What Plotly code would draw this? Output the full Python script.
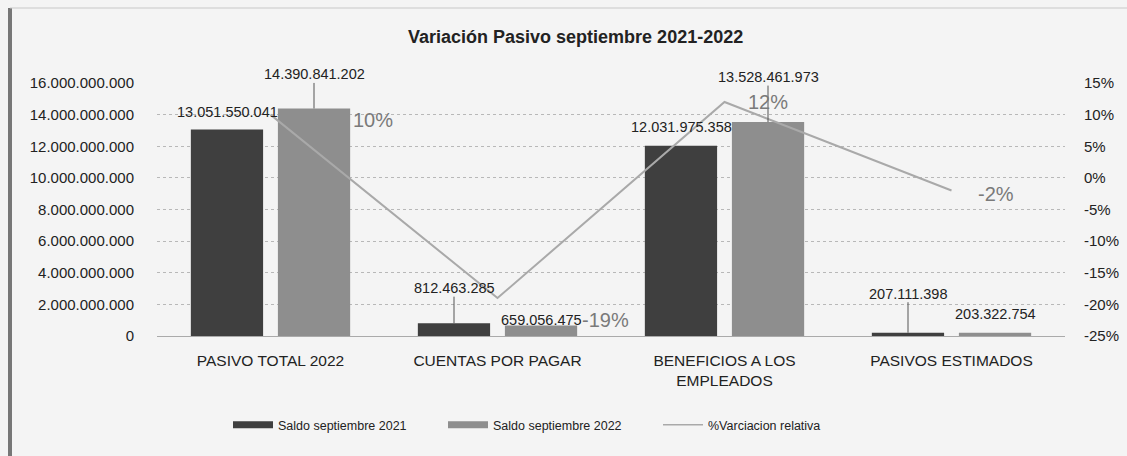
import plotly.graph_objects as go

categories = ["PASIVO TOTAL 2022", "CUENTAS POR PAGAR", "BENEFICIOS A LOS<br>EMPLEADOS", "PASIVOS ESTIMADOS"]
saldo_2021 = [13051550041, 812463285, 12031975358, 207111398]
saldo_2022 = [14390841202, 659056475, 13528461973, 203322754]
variacion = [0.10, -0.19, 0.12, -0.02]
labels_2021 = ["13.051.550.041", "812.463.285", "12.031.975.358", "207.111.398"]
labels_2022 = ["14.390.841.202", "659.056.475", "13.528.461.973", "203.322.754"]
labels_var = ["10%", "-19%", "12%", "-2%"]
left_ticks = [0, 2e9, 4e9, 6e9, 8e9, 10e9, 12e9, 14e9, 16e9]
right_ticks = [-0.25, -0.20, -0.15, -0.10, -0.05, 0.0, 0.05, 0.10, 0.15]
right_ticktext = ["-25%", "-20%", "-15%", "-10%", "-5%", "0%", "5%", "10%", "15%"]

DARK = "#3f3f3f"
LIGHT = "#8e8e8e"
LINE = "#a9a9a9"
TXT = "#222222"
FONT = "Liberation Sans, Arial, sans-serif"

fig = go.Figure()
fig.add_trace(go.Bar(x=categories, y=saldo_2021, name="Saldo septiembre 2021", showlegend=False,
                     marker=dict(color=DARK, line=dict(width=0))))
fig.add_trace(go.Bar(x=categories, y=saldo_2022, name="Saldo septiembre 2022", showlegend=False,
                     marker=dict(color=LIGHT, line=dict(width=0))))
fig.add_trace(go.Scatter(x=categories, y=variacion, name="%Varciacion relativa", showlegend=False,
                         mode="lines", line=dict(color=LINE, width=2), yaxis="y2"))
# legend entries (wide flat swatches like the reference)
fig.add_trace(go.Scatter(x=[None], y=[None], mode="lines", name="Saldo septiembre 2021",
                         line=dict(color=DARK, width=7)))
fig.add_trace(go.Scatter(x=[None], y=[None], mode="lines", name="Saldo septiembre 2022",
                         line=dict(color=LIGHT, width=7)))
fig.add_trace(go.Scatter(x=[None], y=[None], mode="lines", name="%Varciacion relativa",
                         line=dict(color=LINE, width=1.5)))

# label placement styles (pixel offsets), separate from data
off = 43.5
lead_2021 = [None, -35, None, -39]   # leader line length (px) or None
shift_2021 = [18, 0, 19, 0]
lead_2022 = [-34, None, -45, None]
shift_2022 = [0, 6, 0, 19]
var_xshift = [102, 108, 43, 44]
var_yshift = [-5, -22, 0, -3]

annotations = []
for i, c in enumerate(categories):
    for vals, labs, lead, shift, xs in ((saldo_2021, labels_2021, lead_2021, shift_2021, -off),
                                          (saldo_2022, labels_2022, lead_2022, shift_2022, off)):
        if lead[i] is not None:
            annotations.append(dict(x=c, y=vals[i], xref="x", yref="y", text=labs[i],
                                    showarrow=True, arrowhead=0, arrowwidth=1, arrowcolor="#555",
                                    ax=0, ay=lead[i], xshift=xs, standoff=0, startstandoff=0,
                                    font=dict(family=FONT, size=14.5, color=TXT), borderpad=0))
        else:
            annotations.append(dict(x=c, y=vals[i], xref="x", yref="y", text=labs[i],
                                    showarrow=False, xshift=xs, yshift=shift[i], yanchor="middle",
                                    font=dict(family=FONT, size=14.5, color=TXT)))
    annotations.append(dict(x=c, y=variacion[i], xref="x", yref="y2", text=labels_var[i],
                            showarrow=False, xshift=var_xshift[i], yshift=var_yshift[i],
                            yanchor="middle", font=dict(family=FONT, size=20, color="#7a7a7a")))

annotations.append(dict(text="<b>Variación Pasivo septiembre 2021-2022</b>", xref="paper", yref="paper",
                        x=(575 - 157) / 908, y=1 + (83 - 37) / 253, showarrow=False,
                        font=dict(family=FONT, size=18, color=TXT), xanchor="center", yanchor="middle"))

fig.update_layout(
    width=1127, height=456,
    margin=dict(l=157, r=62, t=83, b=120, autoexpand=False),
    paper_bgcolor="#f4f4f4", plot_bgcolor="#f4f4f4",
    barmode="group", bargap=0.233, bargroupgap=0.17,
    font=dict(family=FONT, size=13, color=TXT),
    showlegend=True,
    legend=dict(orientation="h", x=(228 - 157) / 908, xanchor="left", y=-(425 - 336) / 253,
                yanchor="middle", font=dict(family=FONT, size=12.5, color=TXT),
                bgcolor="rgba(0,0,0,0)", itemwidth=40, entrywidth=160, entrywidthmode="pixels",
                tracegroupgap=0),
    xaxis=dict(showline=True, linecolor="#aaaaaa", linewidth=1, ticks="", showgrid=False,
               ticklabelstandoff=10, tickfont=dict(family=FONT, size=15.5, color=TXT)),
    yaxis=dict(range=[0, 16e9], tickvals=left_ticks, tickformat=",d", showgrid=True,
               gridcolor="#b8b8b8", griddash="dot", gridwidth=1, zeroline=False, ticks="",
               ticklabelstandoff=22, tickfont=dict(family=FONT, size=15, color=TXT)),
    yaxis2=dict(range=[-0.25, 0.15], tickvals=right_ticks, ticktext=right_ticktext, overlaying="y",
                side="right", showgrid=False, zeroline=False, ticks="", ticklabelstandoff=18,
                tickfont=dict(family=FONT, size=15, color=TXT)),
    separators=",.",
    annotations=annotations,
    shapes=[
        dict(type="line", xref="paper", yref="paper", x0=(10 - 157) / 908, x1=(10 - 157) / 908,
             y0=-(456 - 336) / 253, y1=1 + (83 - 8) / 253, line=dict(color="#777", width=4)),
        dict(type="line", xref="paper", yref="paper", x0=(10 - 157) / 908, x1=(1127 - 157) / 908,
             y0=1 + (83 - 8) / 253, y1=1 + (83 - 8) / 253, line=dict(color="#c8c8c8", width=1)),
    ],
)

fig.write_html("out.html", config={"displayModeBar": False},
               post_script="document.body.style.margin='0';document.body.style.padding='0';")
